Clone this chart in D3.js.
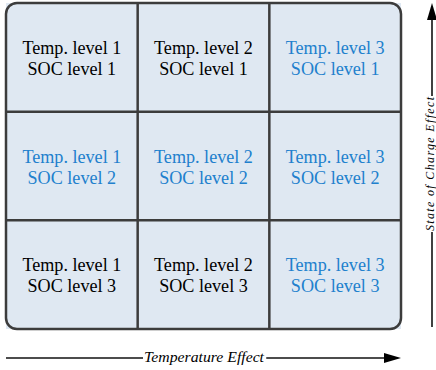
<!DOCTYPE html>
<html><head><meta charset="utf-8">
<script src="https://cdn.jsdelivr.net/npm/d3@7"></script>
<style>body{margin:0;background:#fff}svg{display:block}</style>
</head><body>
<svg id="c" width="436" height="370"></svg>
<script>
const tempLevels = ["Temp. level 1", "Temp. level 2", "Temp. level 3"];
const socLevels = ["SOC level 1", "SOC level 2", "SOC level 3"];
// cells shown in blue: [tempIndex, socIndex]
const highlighted = [[2,0],[0,1],[1,1],[2,1],[2,2]];
const xLabel = "Temperature Effect";
const yLabel = "State of Charge Effect";

const FF = '"Liberation Serif", "Times New Roman", Times, serif';
const ctx = document.createElement("canvas").getContext("2d");
function w(font, s) { ctx.font = font; return ctx.measureText(s).width; }
// size so that a cell line matches the reference width (~99px)
const cellSize = Math.min(18.5, 20 * 99 / w(`20px ${FF}`, "Temp. level 1"));

const svg = d3.select("#c").style("font-family", FF);
const x = d3.scaleBand().domain(tempLevels).range([6, 401]);
const y = d3.scaleBand().domain(socLevels).range([3, 329]);

const cells = [];
socLevels.forEach((s, si) => tempLevels.forEach((t, ti) => {
  cells.push({t, s, hl: highlighted.some(h => h[0] === ti && h[1] === si)});
}));

svg.append("g").selectAll("rect").data(cells).join("rect")
  .attr("x", d => x(d.t)).attr("y", d => y(d.s))
  .attr("width", x.bandwidth()).attr("height", y.bandwidth())
  .attr("fill", "#dfe8f2");

const stroke = "#3c3c3c";
const g = svg.append("g").attr("stroke", stroke).attr("stroke-width", 2.5);
tempLevels.slice(1).forEach(t => g.append("line").attr("x1", x(t)).attr("x2", x(t)).attr("y1", 3).attr("y2", 329));
socLevels.slice(1).forEach(s => g.append("line").attr("y1", y(s)).attr("y2", y(s)).attr("x1", 6).attr("x2", 401));
svg.append("rect").attr("x", 6).attr("y", 3).attr("width", 395).attr("height", 326)
  .attr("rx", 11).attr("fill", "none").attr("stroke", stroke).attr("stroke-width", 2.5);

const tg = svg.append("g").selectAll("text").data(cells).join("text")
  .attr("text-anchor", "middle")
  .style("font-family", FF)
  .style("font-size", cellSize + "px")
  .attr("fill", d => d.hl ? "#2180cd" : "#000");
tg.append("tspan").attr("x", d => x(d.t) + x.bandwidth()/2).attr("y", d => y(d.s) + y.bandwidth()/2 - 3.5).text(d => d.t);
tg.append("tspan").attr("x", d => x(d.t) + x.bandwidth()/2).attr("y", d => y(d.s) + y.bandwidth()/2 + 17.5).text(d => d.s);

// horizontal arrow
const ay = 358;
const hx = svg.append("g");
hx.append("line").attr("x1", 6).attr("x2", 386).attr("y1", ay).attr("y2", ay).attr("stroke", "#111").attr("stroke-width", 1.6);
hx.append("path").attr("d", `M384,${ay-5} L401,${ay} L384,${ay+5} Z`).attr("fill", "#000");
const xbg = hx.append("rect").attr("fill", "#fff");
const xt = hx.append("text").attr("x", 204).attr("y", ay + 4)
  .attr("text-anchor", "middle").style("font-family", FF)
  .attr("font-style", "italic").style("font-size", "14px")
  .attr("textLength", 120).attr("lengthAdjust", "spacingAndGlyphs").text(xLabel);
const xb = xt.node().getBBox();
xbg.attr("x", xb.x - 1).attr("y", ay - 3).attr("width", xb.width + 2).attr("height", 6);

// vertical arrow
const ax = 432;
const vy = svg.append("g");
vy.append("line").attr("x1", ax).attr("x2", ax).attr("y1", 327).attr("y2", 18).attr("stroke", "#111").attr("stroke-width", 1.6);
vy.append("path").attr("d", `M${ax-5},20 L${ax},3 L${ax+5},20 Z`).attr("fill", "#000");
vy.append("rect").attr("x", ax - 3).attr("y", 164 - 68).attr("width", 6).attr("height", 136).attr("fill", "#fff");
vy.append("text").attr("transform", `translate(${ax + 2},164) rotate(-90)`)
  .attr("text-anchor", "middle").style("font-family", FF)
  .attr("font-style", "italic").style("font-size", "12px").attr("textLength", 134).attr("lengthAdjust", "spacing")
  .text(yLabel);
</script>
</body></html>
